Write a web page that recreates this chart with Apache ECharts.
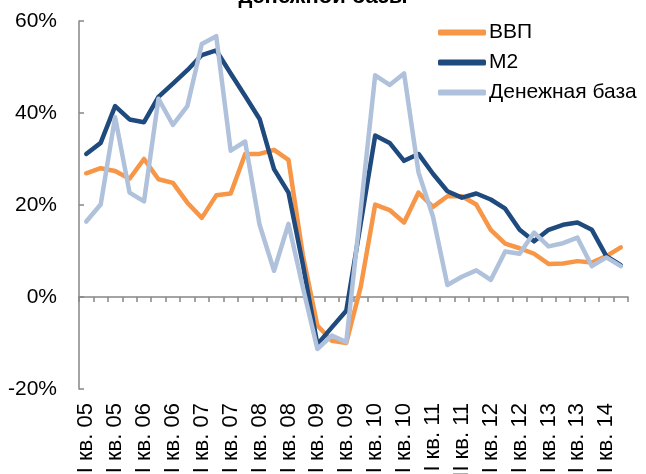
<!DOCTYPE html>
<html>
<head>
<meta charset="utf-8">
<script src="https://cdn.jsdelivr.net/npm/echarts@6/dist/echarts.min.js"></script>
<style>
html,body{margin:0;padding:0;background:#fff;}
#chart{width:646px;height:474px;}
</style>
</head>
<body>
<div id="chart"></div>
<script>
var categories = [
  'I кв. 05','II кв. 05','III кв. 05','IV кв. 05',
  'I кв. 06','II кв. 06','III кв. 06','IV кв. 06',
  'I кв. 07','II кв. 07','III кв. 07','IV кв. 07',
  'I кв. 08','II кв. 08','III кв. 08','IV кв. 08',
  'I кв. 09','II кв. 09','III кв. 09','IV кв. 09',
  'I кв. 10','II кв. 10','III кв. 10','IV кв. 10',
  'I кв. 11','II кв. 11','III кв. 11','IV кв. 11',
  'I кв. 12','II кв. 12','III кв. 12','IV кв. 12',
  'I кв. 13','II кв. 13','III кв. 13','IV кв. 13',
  'I кв. 14','II кв. 14'
];
var seriesNames = ['ВВП', 'М2', 'Денежная база'];
var gdp = [26.9,28.0,27.4,25.7,30.0,25.6,24.8,20.5,17.2,22.1,22.5,31.1,31.1,32.0,29.8,9.0,-6.2,-9.5,-10.0,2.2,20.1,18.9,16.2,22.7,19.6,21.9,21.9,20.1,14.6,11.6,10.6,9.4,7.2,7.3,7.8,7.5,8.9,10.8];
var m2 = [31.1,33.5,41.5,38.6,38.0,43.5,46.4,49.3,52.6,53.6,48.6,43.7,38.7,27.8,22.7,7.0,-10.3,-6.6,-3.0,16.0,35.1,33.5,29.6,31.1,26.8,23.0,21.6,22.5,21.2,19.2,14.6,12.1,14.6,15.7,16.2,14.6,8.9,6.9];
var base = [16.4,20.1,39.1,22.7,20.8,43.1,37.4,41.5,55.0,56.7,31.8,33.8,15.7,5.7,15.9,2.0,-11.3,-8.4,-9.8,19.0,48.2,46.1,48.6,27.1,17.5,2.6,4.4,5.8,3.7,9.9,9.4,14.0,11.0,11.7,12.9,6.7,8.6,6.7];
var yTicks = {min: -20, max: 60, step: 20};
var titleText = 'денежной базы';

var colors = ['#F79646', '#1F4A7E', '#AFC1DB'];
var font = '"Liberation Sans", Arial, sans-serif';
var chart = echarts.init(document.getElementById('chart'), null, {renderer: 'canvas'});

function mk(name, data, color) {
  return {
    name: name, type: 'line', data: data, xAxisIndex: 0, yAxisIndex: 0,
    showSymbol: false, symbol: 'none', smooth: false,
    lineStyle: {color: color, width: 4.5, join: 'round', cap: 'round'},
    itemStyle: {color: color}
  };
}

chart.setOption({
  animation: false,
  backgroundColor: '#ffffff',
  graphic: [{
    type: 'text', left: 'center', top: -14,
    style: {text: titleText, font: 'bold 22px ' + font, fill: '#000'}
  }],
  legend: {
    orient: 'vertical', left: 433, top: 17, itemGap: 9,
    itemWidth: 48, itemHeight: 6, icon: 'roundRect',
    textStyle: {fontFamily: font, fontSize: 21, color: '#000', lineHeight: 21, padding: [0,0,0,-2]},
    data: seriesNames
  },
  grid: {left: 79, right: 18, top: 21, bottom: 85, containLabel: false, outerBoundsMode: 'none'},
  xAxis: [{
    type: 'category', data: categories, boundaryGap: true,
    axisLine: {show: true, onZero: true, lineStyle: {color: '#868686', width: 1.5}},
    axisTick: {show: true, interval: 0, length: 5, inside: false, lineStyle: {color: '#868686', width: 1.5}},
    axisLabel: {show: false}, splitLine: {show: false}
  }, {
    type: 'category', data: categories, boundaryGap: true, position: 'bottom',
    axisLine: {show: false, onZero: false}, axisTick: {show: false},
    axisLabel: {show: true, interval: 1, rotate: 90, margin: 14, fontFamily: font, fontSize: 22, color: '#000'},
    splitLine: {show: false}
  }],
  yAxis: [{
    type: 'value', min: yTicks.min, max: yTicks.max, interval: yTicks.step,
    axisLine: {show: true, lineStyle: {color: '#868686', width: 1.5}},
    axisTick: {show: true, inside: true, length: 5, lineStyle: {color: '#868686', width: 1.5}},
    axisLabel: {formatter: '{value}%', margin: 22, fontFamily: font, fontSize: 21, color: '#000'},
    splitLine: {show: false}
  }],
  series: [mk(seriesNames[0], gdp, colors[0]), mk(seriesNames[1], m2, colors[1]), mk(seriesNames[2], base, colors[2])]
});
</script>
</body>
</html>
